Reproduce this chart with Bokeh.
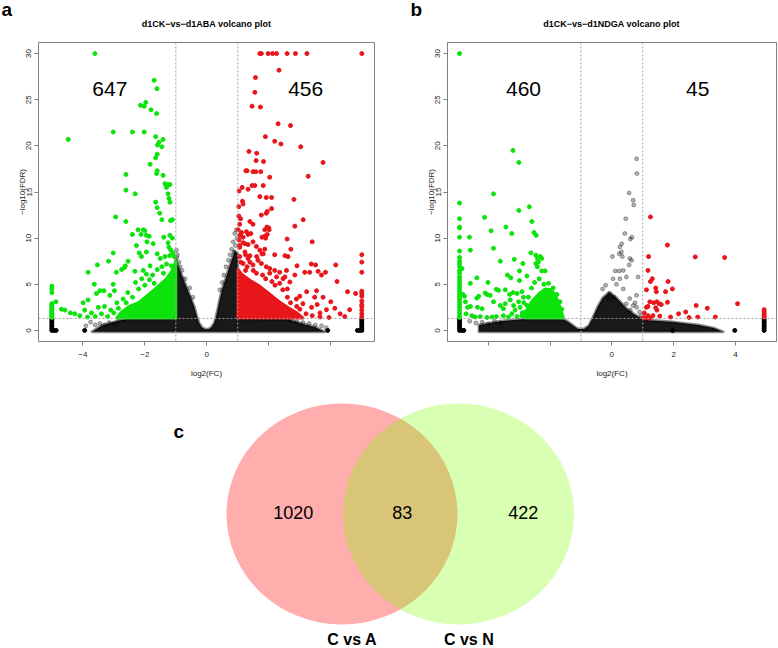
from bokeh.plotting import figure
from bokeh.models import Span, Label, FixedTicker
from bokeh.layouts import column, row
from bokeh.embed import file_html
from bokeh.resources import INLINE

FONT = "Liberation Sans"
GREEN = "#0be30b"
RED = "#e8151b"

X_TICKS = [-4, -2, 0, 2, 4]
Y_TICKS = [0, 5, 10, 15, 20, 25, 30]
FC_CUT = 1.0
FDR_CUT = 1.3  # -log10(0.05)
PANEL_LETTERS = ["a", "b"]

# ---------------- panel a : d1CK-vs-d1ABA ----------------
A_TITLE = "d1CK−vs−d1ABA volcano plot"
A_DOWN = "647"
A_UP = "456"
A_TICK_LABELS = {-4: "−4", -2: "−2", 0: "0", 2: "", 4: ""}

A_GREEN = [
    (-3.61, 30.0), (-4.47, 20.7), (-1.70, 27.1), (-1.61, 26.2), (-1.97, 24.7), (-2.14, 24.4), (-2.02, 24.3),
    (-1.80, 23.9), (-1.62, 23.5), (-3.02, 21.5), (-2.40, 21.5), (-2.02, 21.5), (-1.65, 21.0), (-1.41, 20.7),
    (-1.54, 20.4), (-1.59, 20.1), (-1.45, 19.9), (-1.60, 19.1), (-1.65, 18.7), (-1.83, 18.0), (-1.60, 17.3),
    (-1.62, 17.0), (-2.61, 16.9), (-1.41, 16.8), (-2.61, 15.2), (-1.35, 15.9), (-1.25, 15.8), (-1.19, 15.8),
    (-1.30, 15.5), (-2.31, 14.8), (-1.25, 14.8), (-1.22, 14.3), (-1.19, 13.9), (-1.65, 13.9), (-1.60, 13.3),
    (-1.52, 12.7), (-2.94, 12.3), (-1.45, 12.0), (-1.11, 12.0), (-1.17, 11.9), (-2.61, 11.8), (-2.22, 10.9),
    (-2.05, 10.9), (-2.00, 10.8), (-2.40, 10.4), (-2.12, 10.4), (-1.95, 10.3), (-1.39, 10.1), (-1.19, 10.3),
    (-1.11, 10.0), (-1.86, 10.2), (-1.73, 9.4), (-1.25, 9.5), (-1.22, 9.0), (-2.27, 9.2), (-1.93, 9.6),
    (-3.02, 8.4), (-1.16, 8.7), (-1.10, 8.4), (-1.20, 8.1), (-2.18, 8.4), (-2.11, 8.0), (-1.95, 8.5),
    (-1.60, 8.3), (-1.50, 7.8), (-1.35, 8.0), (-3.17, 7.5), (-2.54, 7.5), (-3.53, 7.1), (-3.83, 6.3),
    (-2.63, 7.0), (-2.66, 6.8), (-2.75, 6.6), (-2.92, 6.3), (-2.32, 6.4), (-2.05, 6.5), (-1.83, 7.0),
    (-1.95, 6.1), (-3.63, 5.0), (-3.56, 4.0), (-3.45, 4.3), (-3.32, 4.3), (-3.13, 3.8), (-3.02, 5.0),
    (-2.98, 4.3), (-3.83, 3.3), (-3.99, 3.0), (-4.87, 3.1), (-4.69, 2.3), (-4.58, 2.2), (-4.40, 1.9),
    (-4.26, 1.8), (-3.94, 2.2), (-3.72, 1.9), (-3.30, 2.6), (-3.10, 2.2), (-3.40, 1.8), (-3.60, 1.5),
    (-3.20, 1.5), (-2.90, 3.0), (-2.70, 3.4), (-2.55, 4.1), (-2.40, 3.6), (-2.20, 4.5), (-2.30, 5.2),
    (-2.10, 5.6), (-2.00, 4.9), (-1.85, 5.5), (-1.75, 6.0), (-1.60, 6.6), (-1.45, 6.9), (-1.30, 7.2),
    (-1.15, 7.0), (-1.05, 8.0), (-1.40, 6.2), (-1.70, 5.1), (-2.60, 3.0), (-2.85, 2.4), (-3.00, 1.9),
    (-2.80, 1.6), (-3.50, 2.5), (-4.10, 1.6), (-3.85, 1.45),
]
A_RED = [
    (1.71, 30.0), (1.76, 30.0), (1.98, 30.0), (2.12, 30.0), (2.25, 30.0), (2.59, 30.0), (2.86, 30.0),
    (3.23, 30.0), (5.00, 30.0), (2.33, 28.2), (1.57, 27.4), (1.55, 25.8), (1.46, 24.3), (1.73, 24.2),
    (2.30, 22.4), (2.70, 22.2), (1.89, 21.0), (2.19, 20.5), (2.39, 20.2), (3.03, 19.9), (1.36, 19.4),
    (1.61, 19.2), (1.59, 18.4), (1.83, 18.3), (3.75, 18.2), (1.26, 17.3), (1.30, 17.3), (1.49, 17.2),
    (1.58, 17.2), (1.74, 17.2), (2.03, 16.6), (3.27, 16.7), (1.14, 15.5), (1.46, 15.7), (1.55, 15.7),
    (1.82, 15.7), (1.04, 15.1), (1.33, 15.3), (1.71, 14.5), (1.92, 14.4), (2.09, 14.4), (1.15, 14.0),
    (2.81, 14.2), (1.03, 13.4), (2.09, 13.2), (1.17, 13.7), (1.76, 12.5), (1.92, 12.7), (1.95, 12.9),
    (1.03, 12.4), (1.09, 12.1), (3.11, 12.0), (2.84, 11.3), (1.06, 11.5), (1.39, 11.8), (1.49, 11.5),
    (2.00, 11.1), (1.87, 10.9), (2.01, 10.9), (1.94, 11.2), (1.01, 10.9), (1.12, 10.6), (1.28, 10.7),
    (1.42, 10.5), (1.33, 10.4), (1.87, 10.2), (1.78, 10.1), (1.95, 10.4), (1.90, 10.0), (3.40, 9.6),
    (2.59, 9.9), (1.17, 9.5), (1.33, 9.3), (1.49, 9.6), (2.71, 8.8), (1.06, 10.3), (1.17, 10.1),
    (1.04, 9.8), (1.23, 9.4), (1.06, 9.2), (2.19, 8.2), (2.52, 8.1), (2.62, 8.0), (1.06, 9.0), (1.23, 8.5),
    (1.39, 8.1), (1.61, 8.0), (1.87, 8.8), (1.78, 8.3), (1.60, 9.1), (1.71, 8.7), (1.82, 8.3), (1.25, 8.2),
    (1.06, 8.0), (1.33, 7.8), (1.39, 7.4), (1.17, 7.25), (1.49, 7.1), (1.65, 7.6), (1.76, 7.25), (1.92, 6.9),
    (2.03, 6.7), (2.19, 6.5), (2.35, 6.3), (2.25, 5.8), (2.03, 6.2), (2.57, 6.5), (2.46, 5.6), (2.68, 5.25),
    (2.35, 5.1), (2.84, 6.0), (2.91, 7.0), (3.16, 6.3), (3.32, 6.3), (3.59, 6.4), (3.70, 6.0), (3.83, 6.3),
    (4.16, 7.1), (4.20, 5.3), (3.37, 7.2), (3.51, 7.1), (3.54, 4.3), (3.75, 3.6), (3.48, 3.6), (3.22, 4.2),
    (3.00, 3.7), (2.89, 3.4), (4.54, 4.2), (4.80, 4.0), (3.86, 2.25), (4.13, 2.4), (3.56, 2.8), (3.38, 2.5),
    (3.94, 1.4), (3.65, 1.45), (4.61, 2.25), (3.65, 1.9), (2.52, 5.8), (2.70, 3.0), (2.90, 2.6), (3.10, 2.9),
    (3.20, 1.8), (2.80, 1.5), (3.40, 1.6), (2.60, 3.6), (2.45, 4.4), (2.20, 4.9), (1.90, 5.6), (1.60, 6.2),
    (1.30, 6.9), (1.10, 7.4), (1.25, 6.5), (1.50, 6.5), (1.80, 6.0), (2.10, 5.3), (2.60, 4.5), (3.00, 2.3),
    (4.00, 3.1), (4.30, 1.8), (4.45, 1.5),
]
A_GRAY = [
    (-0.98, 8.7), (-0.95, 8.2), (-0.97, 7.9), (-0.90, 7.4), (-0.86, 6.9), (-0.80, 6.5), (-0.70, 5.6),
    (-0.55, 4.6), (-0.45, 3.6), (0.95, 10.9), (0.90, 10.5), (0.97, 10.0), (0.85, 9.6), (0.92, 9.2),
    (0.80, 8.8), (0.88, 8.5), (0.75, 8.2), (0.70, 7.6), (0.62, 6.9), (0.55, 6.0), (0.50, 5.2), (0.42, 4.4),
    (-3.90, 0.5), (-3.75, 0.9), (-3.60, 0.6), (-3.45, 0.75), (-3.30, 0.6), (-3.15, 0.85), (-3.00, 0.7),
    (-2.85, 1.0), (-2.70, 1.1), (2.70, 1.1), (2.90, 0.95), (3.10, 0.85), (3.30, 0.75), (3.50, 0.6),
    (3.70, 0.5), (3.85, 0.3),
]
A_BLACK = [(-3.94, 0.0), (3.90, 0.0), (-4.93, 0.0), (-4.86, 0.0), (4.93, 0.0), (4.86, 0.0)]
A_EDGE_X = [-5.0, 5.0]
A_LEFT_GREEN_Y = [4.8, 4.5, 4.1, 2.9, 2.75, 2.6, 2.45, 2.3, 2.15, 2.0, 1.85, 1.7, 1.55, 1.4]
A_RIGHT_RED_Y = [8.2, 7.4, 6.3, 4.25, 4.0, 3.7, 3.2, 2.8, 2.6, 2.2, 1.8, 1.45]
A_EDGE_BLACK_Y = [0.0, 0.2, 0.4, 0.6, 0.8, 1.0, 1.2]
# outlines of the dense (overplotted) clouds
A_BLACK_AREA = [
    (-3.7, -0.15), (3.8, -0.15), (3.5, 0.35), (3.1, 0.7), (2.6, 1.2), (1.0, 1.25), (1.0, 8.3), (0.9, 8.6),
    (0.8, 7.6), (0.7, 6.6), (0.6, 5.5), (0.5, 4.5), (0.42, 3.4), (0.36, 2.4), (0.3, 1.5), (0.24, 0.8),
    (0.14, 0.3), (0.05, 0.12), (-0.05, 0.12), (-0.15, 0.3), (-0.25, 0.8), (-0.32, 1.5), (-0.4, 2.5),
    (-0.5, 3.4), (-0.62, 4.4), (-0.75, 5.5), (-0.86, 6.4), (-0.95, 7.2), (-1.0, 7.8), (-1.0, 1.25),
    (-2.6, 1.25), (-3.0, 0.9), (-3.4, 0.5),
]
A_GREEN_AREA = [
    (-2.9, 1.35), (-2.75, 2.0), (-2.5, 2.6), (-2.2, 3.0), (-1.95, 3.7), (-1.7, 4.4), (-1.5, 5.0),
    (-1.3, 5.6), (-1.15, 6.3), (-1.03, 7.2), (-1.0, 7.5), (-1.0, 1.35),
]
A_RED_AREA = [
    (1.0, 1.35), (1.0, 6.6), (1.15, 6.0), (1.4, 5.4), (1.7, 4.8), (2.0, 4.0), (2.3, 3.2), (2.6, 2.5),
    (2.9, 1.9), (3.1, 1.35),
]

# ---------------- panel b : d1CK-vs-d1NDGA ----------------
B_TITLE = "d1CK−vs−d1NDGA volcano plot"
B_DOWN = "460"
B_UP = "45"
B_TICK_LABELS = {-4: "", -2: "", 0: "0", 2: "2", 4: "4"}

B_GREEN = [
    (-4.85, 6.7), (-4.82, 3.9), (-4.77, 3.7), (-3.20, 19.5), (-3.01, 18.2), (-3.83, 14.8), (-2.67, 13.4),
    (-3.01, 13.0), (-4.12, 12.25), (-2.59, 11.8), (-3.43, 11.2), (-3.91, 10.8), (-3.24, 10.5), (-2.52, 10.6),
    (-2.45, 10.3), (-4.61, 10.1), (-4.58, 8.7), (-3.83, 8.9), (-2.62, 8.4), (-2.46, 8.15), (-2.41, 7.8),
    (-2.32, 8.0), (-2.27, 7.8), (-2.38, 7.4), (-3.61, 7.5), (-3.16, 7.7), (-2.88, 7.25), (-2.46, 7.25),
    (-2.41, 6.9), (-2.27, 6.45), (-2.16, 6.45), (-2.99, 6.45), (-3.38, 6.0), (-3.27, 5.7), (-2.75, 5.9),
    (-2.99, 5.4), (-4.37, 5.7), (-4.58, 5.1), (-4.01, 5.2), (-4.10, 4.05), (-3.94, 3.8), (-4.04, 3.9),
    (-4.37, 3.5), (-4.31, 3.7), (-3.74, 4.45), (-3.67, 4.35), (-3.45, 4.4), (-3.31, 3.9), (-3.20, 4.1),
    (-3.07, 4.0), (-2.91, 4.2), (-2.86, 3.6), (-4.74, 3.1), (-4.58, 2.6), (-4.67, 2.5), (-4.35, 2.5),
    (-4.20, 2.35), (-3.83, 3.1), (-3.61, 2.7), (-3.45, 2.9), (-3.51, 2.35), (-3.29, 3.3), (-3.18, 2.7),
    (-3.02, 3.1), (-2.97, 2.5), (-3.13, 2.2), (-2.75, 2.7), (-2.67, 2.2), (-2.81, 2.0), (-4.72, 1.8),
    (-4.53, 1.6), (-4.42, 1.45), (-4.26, 1.5), (-4.04, 1.4), (-3.88, 1.45), (-3.74, 1.5), (-3.51, 1.6),
    (-3.35, 1.45), (-3.24, 1.8), (-3.07, 1.5), (-2.91, 1.6), (-2.60, 4.6), (-2.50, 5.2), (-2.35, 5.6),
    (-2.20, 5.0), (-2.05, 5.1), (-1.90, 4.6), (-1.78, 3.9), (-1.68, 3.1), (-1.62, 2.3), (-2.70, 3.6),
    (-2.85, 3.0), (-2.90, 1.9), (-2.80, 1.5),
]
B_RED = [
    (1.25, 12.3), (1.80, 9.25), (1.19, 8.0), (2.70, 7.97), (3.65, 7.9), (1.17, 6.5), (1.31, 5.6),
    (1.25, 5.3), (1.82, 5.3), (1.12, 4.4), (1.42, 4.6), (1.44, 4.2), (1.74, 4.2), (1.96, 4.5), (1.23, 3.1),
    (1.35, 3.0), (1.46, 3.1), (1.53, 2.9), (1.60, 2.8), (1.80, 3.05), (1.12, 2.5), (1.17, 2.6), (1.42, 2.45),
    (1.46, 2.2), (2.73, 2.7), (3.09, 2.4), (4.07, 2.9), (1.55, 1.55), (1.33, 1.6), (1.17, 1.6), (1.23, 1.3),
    (1.10, 1.35), (1.90, 1.45), (2.16, 1.8), (2.39, 2.0), (2.78, 1.45), (3.35, 1.45), (1.02, 1.4),
    (1.05, 1.9), (2.50, 1.4),
]
B_GRAY = [
    (0.80, 18.6), (0.81, 17.0), (0.56, 14.9), (0.69, 14.1), (0.71, 13.6), (0.45, 12.1), (0.42, 10.5),
    (0.65, 10.1), (0.60, 9.9), (0.32, 9.4), (0.26, 9.05), (0.31, 8.5), (0.34, 8.0), (0.58, 7.8), (0.64, 7.6),
    (0.56, 7.1), (0.11, 6.45), (0.24, 6.45), (0.37, 6.5), (0.04, 5.6), (0.26, 5.6), (0.47, 5.8), (0.85, 5.8),
    (0.37, 4.5), (0.80, 3.8), (0.58, 3.45), (0.69, 2.7), (0.80, 2.5), (0.47, 2.9), (-0.06, 4.0), (0.04, 3.6),
    (-0.12, 3.45), (0.02, 8.0), (0.24, 8.3), (0.90, 2.0), (0.95, 1.6), (0.75, 3.0), (0.60, 2.2),
    (-0.30, 4.5), (-0.20, 4.9), (0.15, 5.0), (-4.60, 1.0), (-4.40, 0.8), (-4.20, 0.9), (-4.00, 0.7),
    (-3.80, 1.0), (-3.60, 0.8),
]
B_BLACK = [(1.97, 0.0), (3.98, 0.0), (-4.86, 0.0), (-4.79, 0.0)]
B_EDGE_X = [-4.93, 4.93]
B_LEFT_GREEN_Y = [30.0, 13.8, 12.1, 11.2, 11.1, 10.1, 8.6, 7.9, 7.5, 7.25, 6.9, 6.5, 6.2, 5.8, 5.5, 5.2,
                  4.9, 4.6, 4.3, 4.0, 3.7, 3.4, 3.1, 2.8, 2.5, 2.2, 1.9, 1.6, 1.4]
B_RIGHT_RED_Y = [2.25, 2.0, 1.8, 1.6, 1.45]
B_EDGE_BLACK_Y = [0.0, 0.2, 0.4, 0.6, 0.8, 1.0, 1.2]
B_BLACK_AREA = [
    (-4.3, -0.15), (3.6, -0.15), (3.3, 0.25), (2.8, 0.6), (2.0, 0.9), (1.2, 1.1), (0.9, 1.4), (0.7, 1.8),
    (0.5, 2.3), (0.3, 3.0), (0.1, 3.7), (-0.1, 4.1), (-0.3, 3.5), (-0.45, 2.6), (-0.6, 1.5), (-0.75, 0.5),
    (-0.9, 0.15), (-1.1, 0.15), (-1.25, 0.5), (-1.45, 1.0), (-1.6, 1.25), (-2.8, 1.25), (-3.6, 1.0),
    (-4.3, 0.6),
]
B_GREEN_AREA = [
    (-2.8, 1.35), (-2.72, 2.5), (-2.55, 3.3), (-2.35, 4.0), (-2.15, 4.5), (-1.95, 4.4), (-1.8, 3.6),
    (-1.7, 2.7), (-1.62, 1.9), (-1.57, 1.35),
]

# ---------------- panel c : Venn ----------------
VENN_SETS = ["C vs A", "C vs N"]
VENN_ONLY_A = "1020"
VENN_BOTH = "83"
VENN_ONLY_B = "422"


def xs(pts):
    return [p[0] for p in pts]


def ys(pts):
    return [p[1] for p in pts]


def volcano(width, mb_left, mb_right, xr, down, up, down_x, up_x, tick_labels, green, red,
            gray, black, edge_x, left_green_y, right_red_y, edge_black_y, black_area, green_area,
            red_area):
    p = figure(width=width, height=352, x_range=xr, y_range=(-1.2, 31.2), output_backend="svg",
               toolbar_location=None, min_border_left=mb_left, min_border_right=mb_right,
               min_border_top=8, min_border_bottom=45)
    p.outline_line_color = "#808080"
    p.outline_line_width = 1
    p.grid.visible = False
    p.background_fill_color = "white"
    p.border_fill_color = "white"
    for ax in (p.xaxis[0], p.yaxis[0]):
        ax.axis_line_color = None
        ax.major_tick_line_color = "#808080"
        ax.major_tick_out = 4
        ax.major_tick_in = 0
        ax.minor_tick_line_color = None
        ax.major_label_text_font = FONT
        ax.major_label_text_font_size = "8px"
        ax.major_label_text_color = "#222222"
        ax.axis_label_text_font = FONT
        ax.axis_label_text_font_size = "8px"
        ax.axis_label_text_font_style = "normal"
        ax.axis_label_text_color = "#222222"
    p.xaxis.ticker = FixedTicker(ticks=X_TICKS)
    p.xaxis.major_label_overrides = tick_labels
    p.xaxis.major_label_standoff = 6
    p.xaxis.axis_label = "log2(FC)"
    p.xaxis.axis_label_standoff = 9
    p.yaxis.ticker = FixedTicker(ticks=Y_TICKS)
    p.yaxis.major_label_orientation = "vertical"
    p.yaxis.major_label_standoff = 3
    p.yaxis.axis_label = "−log10(FDR)"
    p.yaxis.axis_label_standoff = -3

    # dense cloud of non-significant genes
    p.patch(xs(black_area), ys(black_area), fill_color="black", fill_alpha=0.9,
            line_color="black", line_alpha=0.45, line_width=3, line_join="round")
    p.scatter(xs(gray), ys(gray), size=4, color="black", alpha=0.3)
    p.scatter(xs(black), ys(black), size=4, color="black")
    p.scatter([edge_x[0]] * len(edge_black_y), edge_black_y, size=4, color="black")
    p.scatter([edge_x[1]] * len(edge_black_y), edge_black_y, size=4, color="black")
    # significant genes
    p.patch(xs(green_area), ys(green_area), fill_color=GREEN, line_color=GREEN, line_width=3,
            line_join="round")
    if red_area:
        p.patch(xs(red_area), ys(red_area), fill_color=RED, line_color=RED, line_width=3,
                line_join="round")
    p.scatter(xs(green), ys(green), size=4, color=GREEN)
    p.scatter(xs(red), ys(red), size=4, color=RED)
    p.scatter([edge_x[0]] * len(left_green_y), left_green_y, size=4, color=GREEN)
    p.scatter([edge_x[1]] * len(right_red_y), right_red_y, size=4, color=RED)

    for loc in (-FC_CUT, FC_CUT):
        p.add_layout(Span(location=loc, dimension="height", line_color="#a0a0a0", line_dash="2 2",
                          line_width=1))
    p.add_layout(Span(location=FDR_CUT, dimension="width", line_color="#a0a0a0", line_dash="2 2",
                      line_width=1))

    p.add_layout(Label(x=down_x, y=26.15, text=down, text_font=FONT, text_font_size="21px",
                       text_align="center", text_baseline="alphabetic", text_color="black"))
    p.add_layout(Label(x=up_x, y=26.15, text=up, text_font=FONT, text_font_size="21px",
                       text_align="center", text_baseline="alphabetic", text_color="black"))
    return p


# strip holding the panel letters and the panel titles (pixel-like coordinates)
ps = figure(width=777, height=34, x_range=(0, 777), y_range=(0, 34), output_backend="svg",
            toolbar_location=None, x_axis_type=None, y_axis_type=None, min_border=0)
ps.outline_line_color = None
ps.grid.visible = False
ps.text(x=[1, 410], y=[25.5, 25.5], text=PANEL_LETTERS, text_font_size="19px", text_font_style="bold",
        text_align="left", text_baseline="alphabetic", text_color="black", text_font={"value": FONT})
ps.text(x=[206, 611], y=[10.3, 10.3], text=[A_TITLE, B_TITLE], text_font_size="9px",
        text_font_style="bold", text_align="center", text_baseline="alphabetic", text_color="black",
        text_font={"value": FONT})

pa = volcano(392, 38, 18, (-5.43, 5.41), A_DOWN, A_UP, -3.13, 3.19, A_TICK_LABELS,
             A_GREEN, A_RED, A_GRAY, A_BLACK, A_EDGE_X, A_LEFT_GREEN_Y, A_RIGHT_RED_Y,
             A_EDGE_BLACK_Y, A_BLACK_AREA, A_GREEN_AREA, A_RED_AREA)
pb = volcano(385, 55, 1, (-5.32, 5.33), B_DOWN, B_UP, -2.86, 2.78, B_TICK_LABELS,
             B_GREEN, B_RED, B_GRAY, B_BLACK, B_EDGE_X, B_LEFT_GREEN_Y, B_RIGHT_RED_Y,
             B_EDGE_BLACK_Y, B_BLACK_AREA, B_GREEN_AREA, None)

# Venn diagram, drawn in a pixel-like coordinate space
pv = figure(width=777, height=261, x_range=(0, 777), y_range=(0, 261), output_backend="svg",
            toolbar_location=None, x_axis_type=None, y_axis_type=None, min_border=0)
pv.outline_line_color = None
pv.grid.visible = False
pv.ellipse(x=[341.5], y=[133.5], width=231, height=221, fill_color="#ff0000", fill_alpha=0.32,
           line_color=None)
pv.ellipse(x=[458], y=[133.5], width=231, height=221, fill_color="#7fff00", fill_alpha=0.3,
           line_color=None)
pv.text(x=[292.7, 401.7, 522.7], y=[134.7, 134.7, 134.7], text=[VENN_ONLY_A, VENN_BOTH, VENN_ONLY_B],
        text_font_size="18px", text_align="center", text_baseline="alphabetic", text_color="black",
        text_font={"value": FONT})
pv.text(x=[351.7, 468.3], y=[8.5, 8.5], text=VENN_SETS, text_font_size="16px", text_font_style="bold",
        text_align="center", text_baseline="alphabetic", text_color="black", text_font={"value": FONT})
pv.text(x=[173], y=[216.3], text=["c"], text_font_size="19px", text_font_style="bold",
        text_align="left", text_baseline="alphabetic", text_color="black", text_font={"value": FONT})

layout = column(ps, row(pa, pb), pv)
open("out.html", "w").write(file_html(layout, INLINE))
